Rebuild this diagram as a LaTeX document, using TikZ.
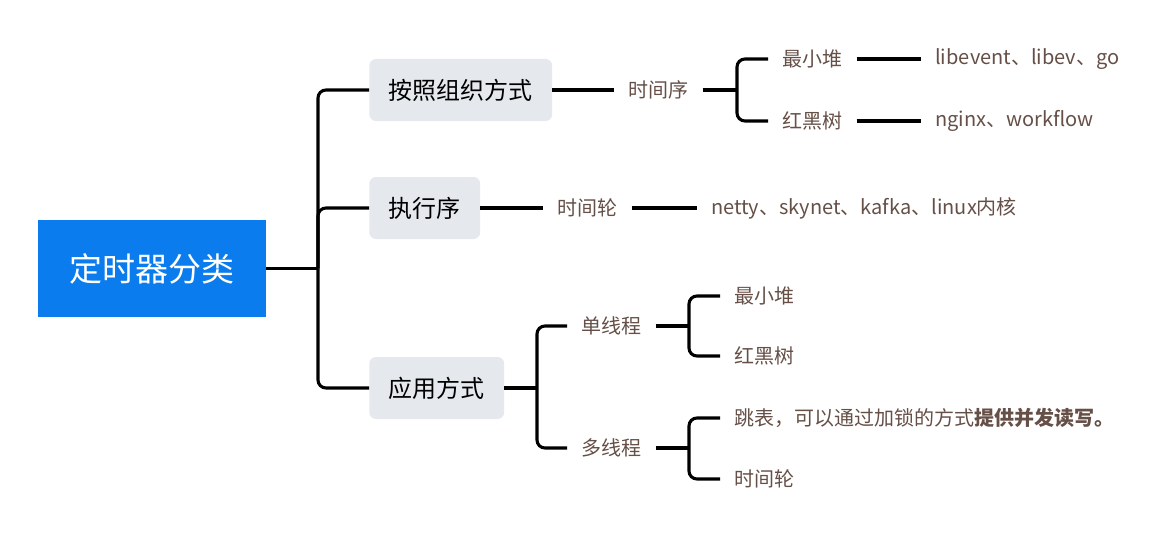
\documentclass[tikz,border=0pt]{standalone}
\usepackage{fontspec}
\setmainfont{Noto Sans CJK SC}
\definecolor{rootblue}{HTML}{0A7CEE}
\definecolor{boxgray}{HTML}{E5E9EE}
\definecolor{leaftext}{HTML}{654F47}
\begin{document}
\begin{tikzpicture}[x=0.75pt,y=-0.75pt,
  rootbox/.style={fill=rootblue,text=white,minimum width=171pt,minimum height=72.75pt,inner sep=0pt,font=\fontsize{24.75pt}{28pt}\selectfont},
  topicbox/.style={fill=boxgray,rounded corners=5pt,text=black,minimum height=46.5pt,inner xsep=14.6pt,inner ysep=0pt,anchor=west,font=\fontsize{18pt}{22pt}\selectfont},
  leaf/.style={text=leaftext,inner xsep=10.5pt,inner ysep=0pt,anchor=west,font=\fontsize{15pt}{18pt}\selectfont},
  link/.style={line width=2.3pt,black},
  bracket/.style={line width=2.3pt,black,rounded corners=6pt}]
\useasboundingbox (0,0) rectangle (1170,535);

\node[rootbox] (root) at (152,268.5) {定时器分类};

\node[topicbox] (org) at (369,90) {按照组织方式};
\node[topicbox] (exe) at (369,208) {执行序};
\node[topicbox] (app) at (369,388) {应用方式};

\coordinate (trunk) at (318,268.5);
\draw[link] (root.east) -- (trunk);
\draw[bracket] (trunk) |- (org.west);
\draw[bracket] (trunk) |- (exe.west);
\draw[bracket] (trunk) |- (app.west);

% branch 1
\node[leaf] (tseq) at (614,90) {时间序};
\node[leaf] (heap1) at (768,59) {最小堆};
\node[leaf] (rb1) at (768,121) {红黑树};
\node[leaf] (heap1x) at (921,59) {libevent、libev、go};
\node[leaf] (rb1x) at (921,121) {nginx、workflow};
\coordinate (j1) at (737,90);
\draw[link] (org.east) -- (tseq.west);
\draw[link] (tseq.east) -- (j1);
\draw[bracket] (heap1.west) -| (j1) |- (rb1.west);
\draw[link] (heap1.east) -- (heap1x.west);
\draw[link] (rb1.east) -- (rb1x.west);

% branch 2
\node[leaf] (wheel) at (543,208) {时间轮};
\node[leaf] (wheelx) at (697,208) {netty、skynet、kafka、linux内核};
\draw[link] (exe.east) -- (wheel.west);
\draw[link] (wheel.east) -- (wheelx.west);

% branch 3
\node[leaf] (single) at (567,326) {单线程};
\node[leaf] (multi) at (567,448) {多线程};
\coordinate (j3) at (537,388);
\draw[link] (app.east) -- (j3);
\draw[bracket] (single.west) -| (j3) |- (multi.west);

\node[leaf] (heap2) at (720,296) {最小堆};
\node[leaf] (rb2) at (720,356) {红黑树};
\coordinate (j4) at (689,326);
\draw[link] (single.east) -- (j4);
\draw[bracket] (heap2.west) -| (j4) |- (rb2.west);

\node[leaf] (skip) at (720,418) {跳表，可以通过加锁的方式\textbf{提供并发读写。}};
\node[leaf] (wheel2) at (720,479) {时间轮};
\coordinate (j5) at (689,448);
\draw[link] (multi.east) -- (j5);
\draw[bracket] (skip.west) -| (j5) |- (wheel2.west);
\end{tikzpicture}
\end{document}
